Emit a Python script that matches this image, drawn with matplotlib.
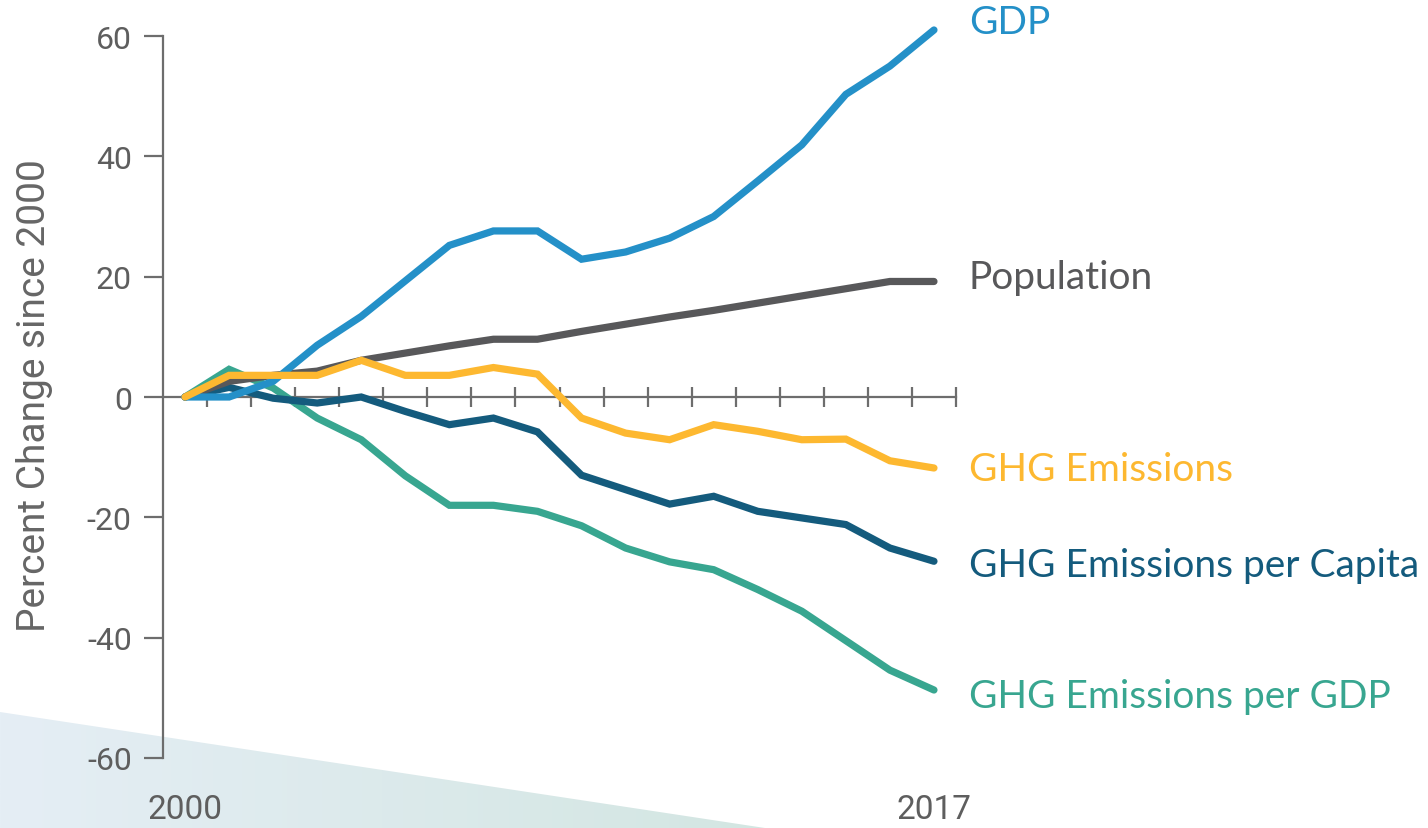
import numpy as np
import matplotlib.pyplot as plt
from matplotlib.patches import Polygon

# Percent change since 2000
years = list(range(2000, 2018))
gdp = [0, 0, 2.6, 8.6, 13.4, 19.3, 25.2, 27.6, 27.6, 22.9, 24.1, 26.4, 30.0, 35.9, 41.9, 50.3, 55.0, 61.0]
population = [0, 2.6, 3.6, 4.3, 6.1, 7.3, 8.5, 9.6, 9.6, 10.9, 12.1, 13.3, 14.4, 15.6, 16.8, 18.0, 19.2, 19.2]
ghg = [0, 3.6, 3.6, 3.6, 6.1, 3.6, 3.6, 4.9, 3.8, -3.5, -6.0, -7.1, -4.6, -5.7, -7.1, -7.0, -10.6, -11.8]
ghg_per_capita = [0, 1.6, -0.2, -1.0, 0, -2.4, -4.6, -3.5, -5.8, -13.0, -15.4, -17.8, -16.5, -19.0, -20.1, -21.2, -25.1, -27.3]
ghg_per_gdp = [0, 4.6, 1.5, -3.5, -7.1, -13.1, -18.0, -18.0, -19.0, -21.4, -25.1, -27.4, -28.7, -32.0, -35.6, -40.5, -45.4, -48.7]

series_names = ['GHG Emissions per GDP', 'GHG Emissions per Capita', 'Population', 'GDP', 'GHG Emissions']
series_values = [ghg_per_gdp, ghg_per_capita, population, gdp, ghg]
series_colors = ['#38a690', '#145b7d', '#58585a', '#2490c8', '#fdb830']
label_nudge = {'GDP': 1.3, 'Population': 0.8, 'GHG Emissions': -0.2,
               'GHG Emissions per Capita': -0.6, 'GHG Emissions per GDP': -1.0}
yticks = [-60, -40, -20, 0, 20, 40, 60]

W, H = 1428, 829
fig = plt.figure(figsize=(W / 100, H / 100), dpi=100)
fig.patch.set_facecolor('white')

# background triangle with a soft gradient
bg = fig.add_axes([0, 0, 1, 1], zorder=0)
bg.set_xlim(0, W)
bg.set_ylim(H, 0)
bg.axis('off')
grad = np.linspace(0, 1, 256).reshape(1, -1)
c0 = np.array([0xe5, 0xee, 0xf5]) / 255
c1 = np.array([0xd3, 0xe6, 0xe2]) / 255
img = c0[None, None, :] * (1 - grad[..., None]) + c1[None, None, :] * grad[..., None]
im = bg.imshow(img, extent=[0, 765, H, 713], aspect='auto')
tri = Polygon([[0, 713], [0, H], [765, H]], closed=True, transform=bg.transData)
im.set_clip_path(tri)

# main axes: x runs from -0.5 to 17.5 (year bands), y from -60 to 60
ax = fig.add_axes([163 / W, (H - 759) / H, (956 - 163) / W, (759 - 37) / H], zorder=1)
ax.patch.set_alpha(0)
x = np.arange(len(years))
ax.set_xlim(-0.5, len(years) - 0.5)
ax.set_ylim(-60, 60)

axis_gray = '#6d6d6d'
text_gray = '#5e5e5e'
for s in ['top', 'right']:
    ax.spines[s].set_visible(False)
ax.spines['left'].set_color(axis_gray)
ax.spines['left'].set_linewidth(1.6)
ax.spines['bottom'].set_position(('data', 0))
ax.spines['bottom'].set_color(axis_gray)
ax.spines['bottom'].set_linewidth(1.6)

ax.set_yticks(yticks)
ax.set_yticklabels([str(v) for v in yticks])
ax.tick_params(axis='y', direction='out', length=13.5, width=1.6, color=axis_gray,
               labelsize=23, labelcolor=text_gray, pad=9)
ax.set_xticks(x[:-1] + 0.5)
ax.set_xticks([len(years) - 0.5], minor=True)
ax.tick_params(axis='x', which='both', direction='inout', length=14.5, width=1.6,
               color=axis_gray, labelbottom=False)
for lab in ax.get_yticklabels():
    lab.set_family(['Roboto', 'DejaVu Sans'])

for name, vals, col in zip(series_names, series_values, series_colors):
    ax.plot(x, vals, color=col, lw=5.2, solid_capstyle='round', solid_joinstyle='miter',
            clip_on=False, zorder=3)
    ax.text(17.79, vals[-1] + label_nudge[name], name, color=col, fontsize=28,
            family=['Lato', 'DejaVu Sans'], va='center', ha='left', clip_on=False)

# year labels at the ends
for i in [0, len(years) - 1]:
    ax.text(x[i], -68.5, str(years[i]), ha='center', va='center', fontsize=24,
            color=text_gray, family=['Roboto', 'DejaVu Sans'])

ax.set_ylabel('Percent Change since 2000', fontsize=28, color='#666666',
              family=['Roboto', 'DejaVu Sans'])
ax.yaxis.set_label_coords(-(163 - 53) / (956 - 163), (759 - 396) / (759 - 37))

fig.savefig('out.png', dpi=100, facecolor='white')
